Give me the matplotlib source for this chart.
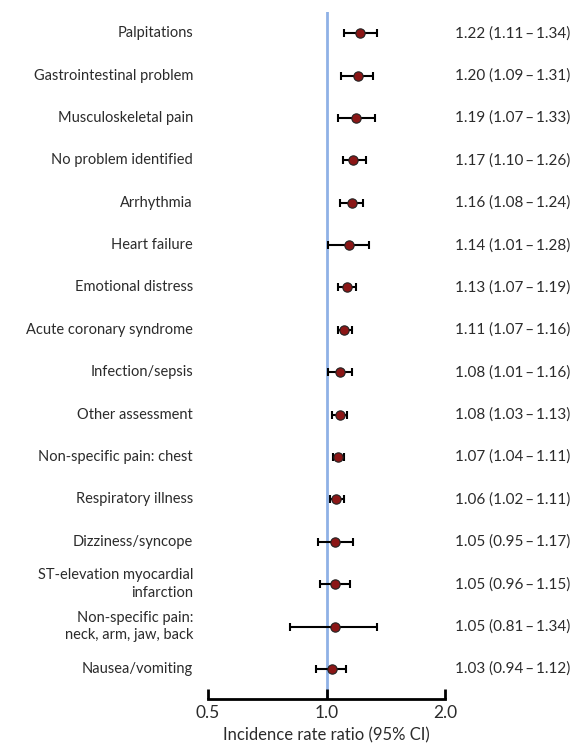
import numpy as np
import matplotlib
matplotlib.use("Agg")
import matplotlib.pyplot as plt
from matplotlib.ticker import FixedLocator, NullLocator

plt.rcParams['font.family'] = ['Lato', 'DejaVu Sans']

labels = ["Palpitations", "Gastrointestinal problem", "Musculoskeletal pain",
          "No problem identified", "Arrhythmia", "Heart failure",
          "Emotional distress", "Acute coronary syndrome", "Infection/sepsis",
          "Other assessment", "Non-specific pain: chest", "Respiratory illness",
          "Dizziness/syncope", "ST-elevation myocardial\ninfarction",
          "Non-specific pain:\nneck, arm, jaw, back", "Nausea/vomiting"]
irr = [1.22, 1.20, 1.19, 1.17, 1.16, 1.14, 1.13, 1.11, 1.08, 1.08, 1.07, 1.06,
       1.05, 1.05, 1.05, 1.03]
lo = [1.11, 1.09, 1.07, 1.10, 1.08, 1.01, 1.07, 1.07, 1.01, 1.03, 1.04, 1.02,
      0.95, 0.96, 0.81, 0.94]
hi = [1.34, 1.31, 1.33, 1.26, 1.24, 1.28, 1.19, 1.16, 1.16, 1.13, 1.11, 1.11,
      1.17, 1.15, 1.34, 1.12]

ticks = [0.5, 1.0, 2.0]

fig = plt.figure(figsize=(5.73, 7.45), dpi=100)
ax = fig.add_axes([208/573, 46/745, (445-208)/573, (699-12)/745])

y = np.arange(len(labels))
irr = np.array(irr); lo = np.array(lo); hi = np.array(hi)

ax.axvline(1.0, color="#8fb1e6", lw=2, zorder=1)
ax.errorbar(irr, y, xerr=[irr-lo, hi-irr], fmt="none", ecolor="black",
            elinewidth=1.5, capsize=3, capthick=1.5, zorder=2)
ax.scatter(irr, y, s=45, color="#8b1616", edgecolor="#222222", linewidth=0.8, zorder=3)

ax.set_xscale("log")
ax.set_xlim(0.5, 2.0)
ax.set_ylim(len(labels)-1+0.71, -0.5)
ax.xaxis.set_major_locator(FixedLocator(ticks))
ax.xaxis.set_minor_locator(NullLocator())
ax.set_xticklabels(["%.1f" % t for t in ticks], fontsize=12.5, color="#2b2b2b")
ax.tick_params(axis="x", direction="in", length=7, width=2, pad=4)
ax.set_yticks([])
for s in ["top", "left", "right"]:
    ax.spines[s].set_visible(False)
ax.spines["bottom"].set_linewidth(2)
ax.set_xlabel("Incidence rate ratio (95% CI)", fontsize=12, color="#2b2b2b", labelpad=5)

for i in range(len(labels)):
    ax.text(-0.063, i, labels[i], transform=ax.get_yaxis_transform(), ha="right",
            va="center", fontsize=10.5, color="#2b2b2b", linespacing=1.3)
    ax.text(1.042, i, "%.2f (%.2f\u2009\u2013\u2009%.2f)" % (irr[i], lo[i], hi[i]),
            transform=ax.get_yaxis_transform(), ha="left", va="center",
            fontsize=11, color="#2b2b2b")

fig.savefig("out.png", dpi=100)
